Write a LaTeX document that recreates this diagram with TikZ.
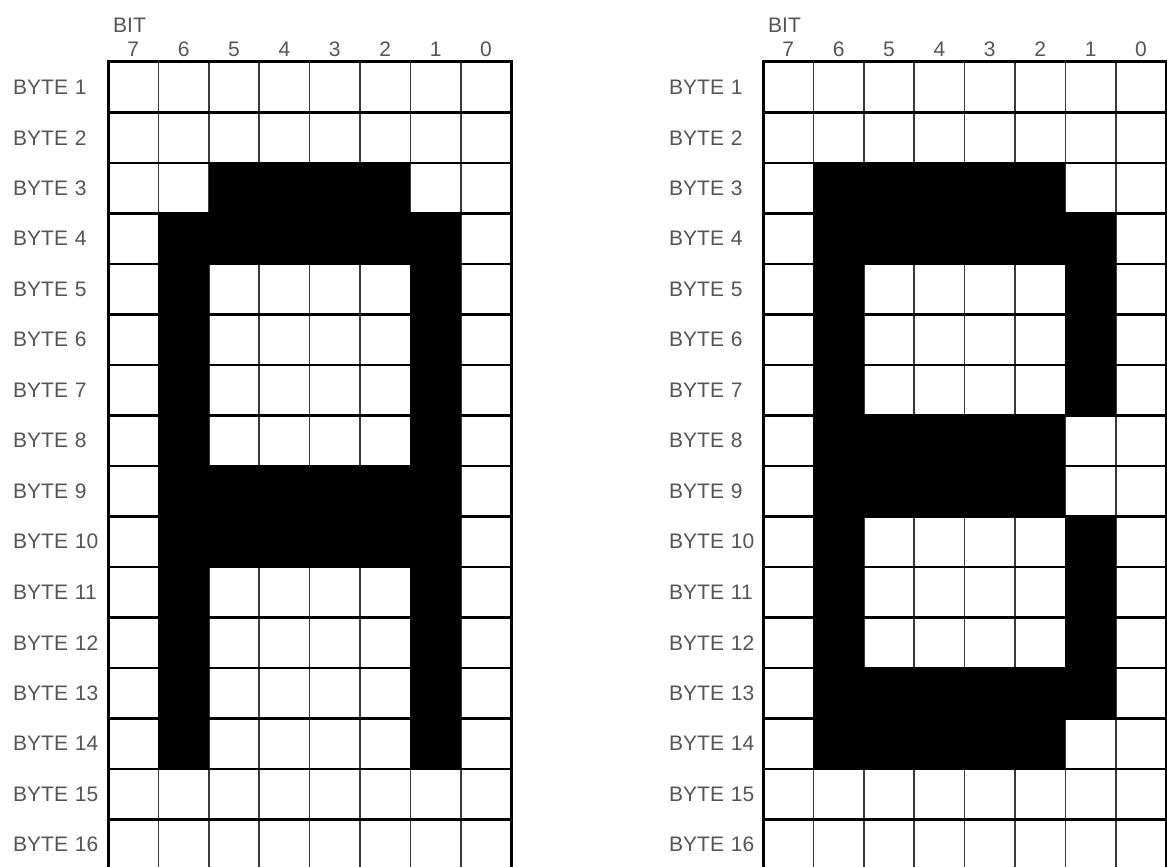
\documentclass[tikz,border=0pt]{standalone}
\usepackage{fontspec}
\setmainfont{Liberation Sans}
\definecolor{txt}{HTML}{555555}
\definecolor{vline}{HTML}{3A3A3A}
\begin{document}
\begin{tikzpicture}[x=1pt,y=-1pt,
  lbl/.style={font=\fontsize{21}{21}\selectfont, text=txt, inner sep=0pt},
  hline/.style={line width=2.6pt, draw=black},
  vl/.style={line width=1.6pt, draw=vline},
  border/.style={line width=3pt, draw=black},
  on/.style={fill=black}]
\useasboundingbox (0,0) rectangle (1167,867);
\clip (0,0) rectangle (1167,867);
\fill[white] (0,0) rectangle (1167,867);
\def\w{50.4}
\def\h{50.5}
\def\yz{62}
% ---- grids ----
\foreach \xz/\nm/\lx in {108/A/13, 763/B/669} {
  \foreach \c in {1,...,7}
    \draw[vl] ({\xz+\c*\w},\yz) -- ({\xz+\c*\w},872);
  \foreach \r in {1,...,15}
    \draw[hline] (\xz,{\yz+\r*\h}) -- ({\xz+8*\w},{\yz+\r*\h});
  \draw[border] (\xz,872) -- (\xz,\yz) -- ({\xz+8*\w},\yz) -- ({\xz+8*\w},872);
  \node[lbl, anchor=base west] (\nm-bit) at ({\xz+5},33) {BIT};
  \foreach \c [evaluate=\c as \b using int(7-\c)] in {0,...,7}
    \node[lbl, anchor=base] (\nm-b\b) at ({\xz+(\c+0.5)*\w},57) {\b};
  \foreach \r in {1,...,16}
    \node[lbl, anchor=west] (\nm-byte\r) at (\lx,{\yz+(\r-0.5)*\h}) {BYTE\hspace{0.33em}\r};
}
% ---- fills: A ----
\foreach \ca/\cb/\ra/\rb in {2/5/3/3, 1/6/4/4, 1/1/5/8, 6/6/5/8, 1/6/9/10, 1/1/11/14, 6/6/11/14}
  \fill[on] ({108+\ca*\w},{\yz+(\ra-1)*\h}) rectangle ({108+(\cb+1)*\w},{\yz+\rb*\h});
% ---- fills: B ----
\foreach \ca/\cb/\ra/\rb in {1/5/3/3, 1/6/4/4, 1/1/5/7, 6/6/5/7, 1/5/8/9, 1/1/10/12, 6/6/10/12, 1/6/13/13, 1/5/14/14}
  \fill[on] ({763+\ca*\w},{\yz+(\ra-1)*\h}) rectangle ({763+(\cb+1)*\w},{\yz+\rb*\h});
\end{tikzpicture}
\end{document}
